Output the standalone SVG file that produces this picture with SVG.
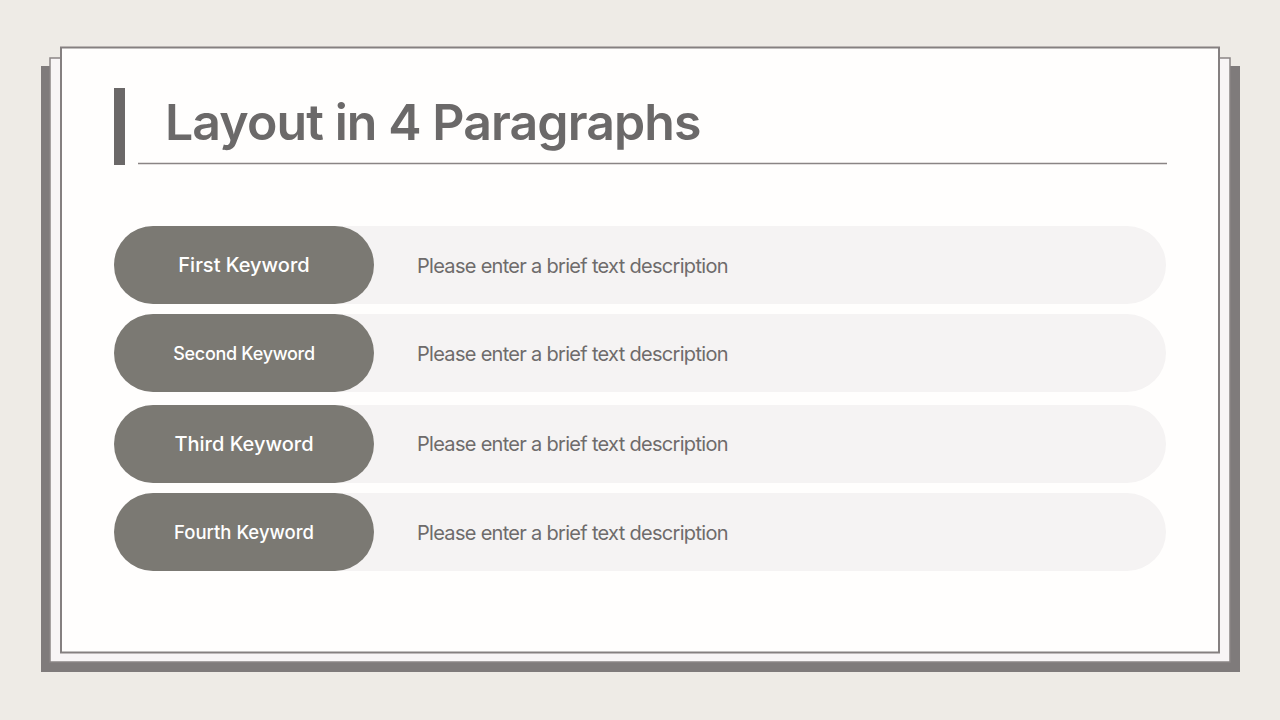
<svg xmlns="http://www.w3.org/2000/svg" width="1280" height="720" viewBox="0 0 1280 720">
<style>
.key{font-family:Inter,"Liberation Sans",sans-serif;fill:#ffffff;text-anchor:middle;font-weight:500}
.desc{font-family:Inter,"Liberation Sans",sans-serif;fill:#6e6b6b;font-size:20px;letter-spacing:-0.7px}
.bar{fill:#f5f3f3}
.pill{fill:#7b7973}
</style>
<rect x="0" y="0" width="1280" height="720" fill="#eeebe6"/>
<rect x="41" y="66" width="1199" height="606" fill="#7f7b7b"/>
<rect x="50" y="58" width="1180" height="604" fill="#f8f5f6" stroke="#8a8585" stroke-width="1.5"/>
<rect x="61" y="47.5" width="1158" height="605" fill="#fffefd" stroke="#858080" stroke-width="2"/>
<g id="title">
<rect x="114" y="88" width="11" height="77" fill="#6b6868"/>
<text x="165" y="140" font-family="Inter,'Liberation Sans',sans-serif" font-weight="600" font-size="50" fill="#6b6969" letter-spacing="-0.9">Layout in 4 Paragraphs</text>
<line x1="138" y1="163.5" x2="1167" y2="163.5" stroke="#8a8585" stroke-width="1.5"/>
</g>
<g id="row1">
<rect class="bar" x="114" y="226" width="1052" height="78" rx="39"/>
<rect class="pill" x="114" y="226" width="260" height="78" rx="39"/>
<text class="key" x="244" y="272" font-size="20">First Keyword</text>
<text class="desc" x="417" y="273">Please enter a brief text description</text>
</g>
<g id="row2">
<rect class="bar" x="114" y="314" width="1052" height="78" rx="39"/>
<rect class="pill" x="114" y="314" width="260" height="78" rx="39"/>
<text class="key" x="244" y="360" font-size="18" letter-spacing="-0.3">Second Keyword</text>
<text class="desc" x="417" y="361">Please enter a brief text description</text>
</g>
<g id="row3">
<rect class="bar" x="114" y="405" width="1052" height="78" rx="39"/>
<rect class="pill" x="114" y="405" width="260" height="78" rx="39"/>
<text class="key" x="244" y="451" font-size="20">Third Keyword</text>
<text class="desc" x="417" y="451">Please enter a brief text description</text>
</g>
<g id="row4">
<rect class="bar" x="114" y="493" width="1052" height="78" rx="39"/>
<rect class="pill" x="114" y="493" width="260" height="78" rx="39"/>
<text class="key" x="244" y="539" font-size="18.5">Fourth Keyword</text>
<text class="desc" x="417" y="540">Please enter a brief text description</text>
</g>
<g id="connectors"/>
</svg>
